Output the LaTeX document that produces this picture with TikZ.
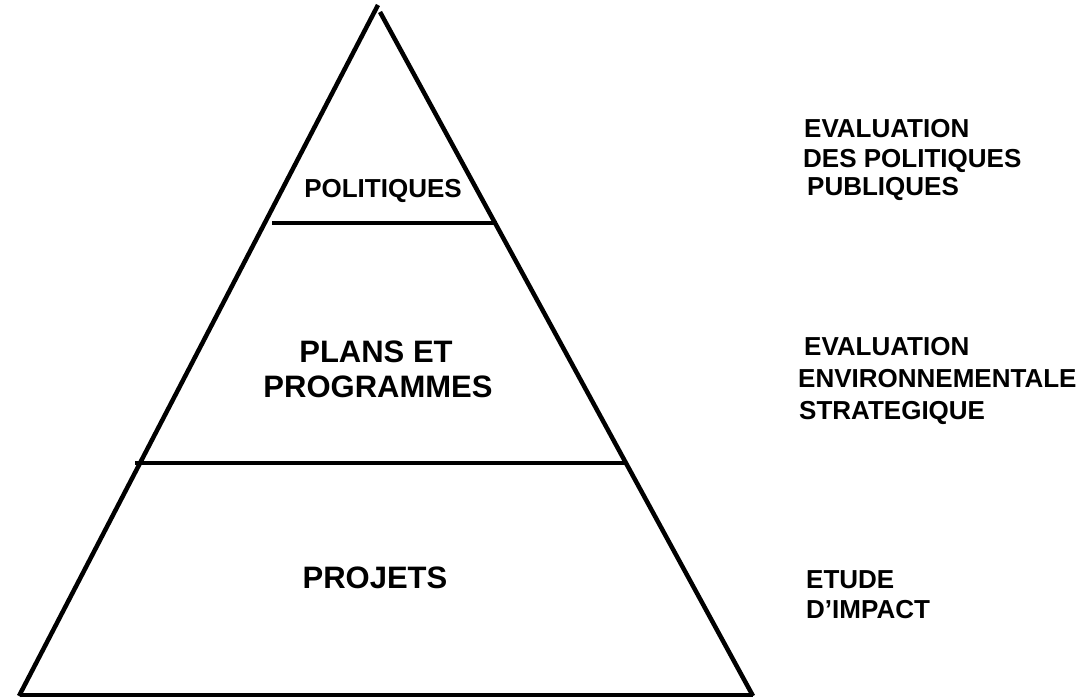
\documentclass[tikz,border=0pt]{standalone}
\usepackage{fontspec}
\setmainfont{Liberation Sans}
\begin{document}
\begin{tikzpicture}[x=1pt,y=-1pt,
  side/.style={line width=4.5pt,line cap=butt},
  tier/.style={line width=4pt},
  lvl/.style={font=\bfseries\fontsize{31}{35}\selectfont,inner sep=0pt,anchor=base},
  toplvl/.style={font=\bfseries\fontsize{26}{30}\selectfont,inner sep=0pt,anchor=base},
  note/.style={font=\bfseries\fontsize{26}{30}\selectfont,inner sep=0pt,anchor=base west}]
\useasboundingbox (0,0) rectangle (1088,700);

% pyramid outline
\coordinate (apexL) at (378,5);
\coordinate (apexR) at (380,12);
\coordinate (baseL) at (19,696);
\coordinate (baseR) at (753,696);
\draw[side] (apexL) -- (baseL);
\draw[side] (apexR) -- (baseR);
\draw[tier] (20,695) -- (753,695);

% tier separators
\coordinate (t1a) at (272,223);
\coordinate (t1b) at (497,223);
\coordinate (t2a) at (135,463);
\coordinate (t2b) at (625,463);
\draw[tier] (t1a) -- (t1b);
\draw[tier] (t2a) -- (t2b);

% tier names
\node[toplvl] (pol) at (383,198) {POLITIQUES};
\node[lvl] (plans) at (376,363) {PLANS ET};
\node[lvl] (prog) at (378,398) {PROGRAMMES};
\node[lvl] (proj) at (375,589) {PROJETS};

% assessment instruments
\node[note] (e1) at (804,138) {EVALUATION};
\node[note] (e2) at (803,168) {DES POLITIQUES};
\node[note] (e3) at (807,196) {PUBLIQUES};
\node[note] (s1) at (804,356) {EVALUATION};
\node[note] (s2) at (798,388) {ENVIRONNEMENTALE};
\node[note] (s3) at (799,420) {STRATEGIQUE};
\node[note] (i1) at (806,588) {ETUDE};
\node[note] (i2) at (806,618) {D’IMPACT};
\end{tikzpicture}
\end{document}
